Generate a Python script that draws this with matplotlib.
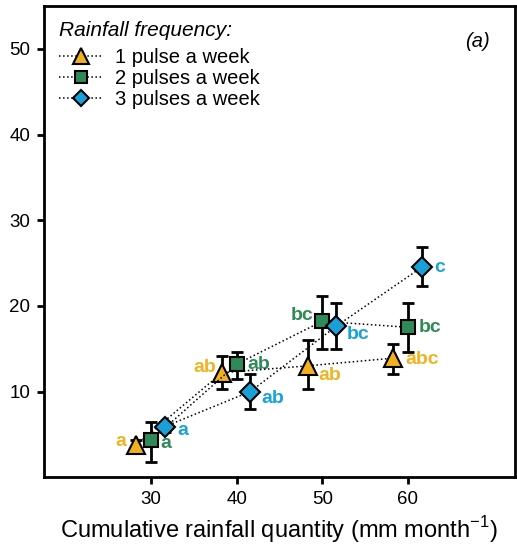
import matplotlib.pyplot as plt

plt.rcParams['font.family'] = ['Liberation Sans', 'DejaVu Sans']

# data
rainfall = [30, 40, 50, 60]
series = ['1 pulse a week', '2 pulses a week', '3 pulses a week']
mean_1 = [3.8, 12.2, 13.0, 13.9]
lo_1 = [3.3, 10.3, 10.3, 12.1]
hi_1 = [4.3, 14.1, 16.0, 15.6]
mean_2 = [4.3, 13.2, 18.2, 17.5]
lo_2 = [1.8, 11.5, 15.0, 14.6]
hi_2 = [6.5, 14.6, 21.2, 20.3]
mean_3 = [5.9, 10.0, 17.6, 24.5]
lo_3 = [5.3, 8.0, 15.0, 22.3]
hi_3 = [6.5, 12.1, 20.3, 26.9]
letters_1 = ['a', 'ab', 'ab', 'abc']
letters_2 = ['a', 'ab', 'bc', 'bc']
letters_3 = ['a', 'ab', 'bc', 'c']

fig = plt.figure(figsize=(5.17, 5.46), dpi=100)
ax = fig.add_axes([0.085, 0.126, 0.911, 0.863])

styles = [
    dict(marker='^', ms=13, fc='#F2B01E', shift=-1.7, txt='#F0B323'),
    dict(marker='s', ms=10, fc='#2E8B57', shift=0.0, txt='#2E8B57'),
    dict(marker='D', ms=10, fc='#1A9FD6', shift=1.6, txt='#1AA3D9'),
]
means = [mean_1, mean_2, mean_3]
los = [lo_1, lo_2, lo_3]
his = [hi_1, hi_2, hi_3]
letters = [letters_1, letters_2, letters_3]

# label offsets (points) per series and point
offs = [
    [(-15, 2), (-21, 4), (8, -7), (9, -1)],
    [(7, -2), (8, 0), (-23, 4), (8, 0)],
    [(9, -3), (8, -5), (8, -6), (9, 0)],
]

handles = []
for i, st in enumerate(styles):
    xs = [x + st['shift'] for x in rainfall]
    m = means[i]
    yerr = [[mm - l for mm, l in zip(m, los[i])], [h - mm for mm, h in zip(m, his[i])]]
    ax.errorbar(xs, m, yerr=yerr, fmt='none', ecolor='black', elinewidth=2,
                capsize=4.5, capthick=2, zorder=2)
    h, = ax.plot(xs, m, linestyle=':', color='black', lw=1.1, marker=st['marker'],
                 ms=st['ms'], mfc=st['fc'], mec='black', mew=1.5, zorder=4,
                 label=series[i])
    handles.append(h)
    for j, (x, y) in enumerate(zip(xs, m)):
        ax.annotate(letters[i][j], (x, y), xytext=offs[i][j], textcoords='offset points',
                    color=st['txt'], fontsize=14, fontweight='bold', va='center', ha='left')

ax.set_xlim(17.5, 72.5)
ax.set_ylim(0, 55)
ax.set_xticks(rainfall)
ax.set_yticks([10, 20, 30, 40, 50])
ax.tick_params(width=2, length=5, labelsize=13.5, direction='out', pad=5)
for s in ax.spines.values():
    s.set_linewidth(2)
ax.set_xlabel('Cumulative rainfall quantity (mm month$^{\\mathregular{-1}}$)', fontsize=17, labelpad=4)

leg = ax.legend(handles=handles, loc='upper left', frameon=False, fontsize=14.5,
                title='Rainfall frequency:', title_fontsize=15, handlelength=2.2,
                handletextpad=0.6, labelspacing=0.1, borderaxespad=0.35, alignment='left',
                borderpad=0.4, markerscale=0.85)
leg.get_title().set_style('italic')
leg._legend_box.sep = 6

ax.text(0.947, 0.924, '(a)', transform=ax.transAxes, ha='right', va='center',
        fontsize=14.5, style='italic')

fig.savefig('out.png', dpi=100)
